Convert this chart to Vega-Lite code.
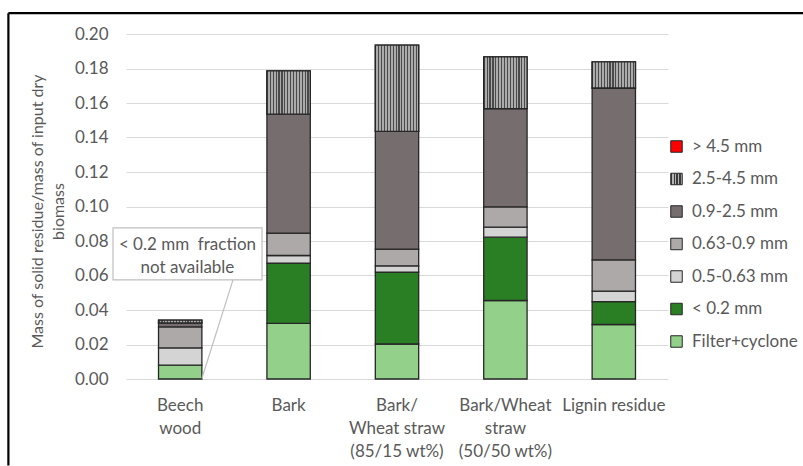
{
  "$schema": "https://vega.github.io/schema/vega-lite/v6.json",
  "usermeta": {"embedOptions": {"actions": false}},
  "autosize": {"type": "none"},
  "padding": {"left": 126, "top": 34, "right": 135, "bottom": 87},
  "width": 542,
  "height": 345,
  "background": "white",
  "config": {
    "font": "Lato",
    "view": {"stroke": null},
    "axis": {"labelColor": "#595959", "titleColor": "#595959", "labelFont": "Lato", "titleFont": "Lato", "labelFontSize": 17, "titleFontSize": 16, "titleFontWeight": "normal", "labelOverlap": false},
    "axisY": {"labelOverlap": false, "labelSeparation": -50, "labelBound": false, "domain": false, "ticks": false, "labelPadding": 18, "gridColor": "#D9D9D9", "gridWidth": 1.2, "format": ".2f", "tickCount": 11},
    "legend": {"labelColor": "#595959", "labelFont": "Lato", "labelFontSize": 17}
  },
  "data": {
    "values": [
      {"sample": "Beech\nwood", "fraction": "Filter+cyclone", "value": 0.0080},
      {"sample": "Beech\nwood", "fraction": "0.5-0.63 mm", "value": 0.0100},
      {"sample": "Beech\nwood", "fraction": "0.63-0.9 mm", "value": 0.0122},
      {"sample": "Beech\nwood", "fraction": "0.9-2.5 mm", "value": 0.0023},
      {"sample": "Beech\nwood", "fraction": "2.5-4.5 mm", "value": 0.0016},
      {"sample": "Bark", "fraction": "Filter+cyclone", "value": 0.0322},
      {"sample": "Bark", "fraction": "< 0.2 mm", "value": 0.0350},
      {"sample": "Bark", "fraction": "0.5-0.63 mm", "value": 0.0044},
      {"sample": "Bark", "fraction": "0.63-0.9 mm", "value": 0.0130},
      {"sample": "Bark", "fraction": "0.9-2.5 mm", "value": 0.0689},
      {"sample": "Bark", "fraction": "2.5-4.5 mm", "value": 0.0251},
      {"sample": "Bark/\nWheat straw\n(85/15 wt%)", "fraction": "Filter+cyclone", "value": 0.0203},
      {"sample": "Bark/\nWheat straw\n(85/15 wt%)", "fraction": "< 0.2 mm", "value": 0.0417},
      {"sample": "Bark/\nWheat straw\n(85/15 wt%)", "fraction": "0.5-0.63 mm", "value": 0.0036},
      {"sample": "Bark/\nWheat straw\n(85/15 wt%)", "fraction": "0.63-0.9 mm", "value": 0.0097},
      {"sample": "Bark/\nWheat straw\n(85/15 wt%)", "fraction": "0.9-2.5 mm", "value": 0.0683},
      {"sample": "Bark/\nWheat straw\n(85/15 wt%)", "fraction": "2.5-4.5 mm", "value": 0.0500},
      {"sample": "Bark/Wheat\nstraw\n(50/50 wt%)", "fraction": "Filter+cyclone", "value": 0.0455},
      {"sample": "Bark/Wheat\nstraw\n(50/50 wt%)", "fraction": "< 0.2 mm", "value": 0.0367},
      {"sample": "Bark/Wheat\nstraw\n(50/50 wt%)", "fraction": "0.5-0.63 mm", "value": 0.0058},
      {"sample": "Bark/Wheat\nstraw\n(50/50 wt%)", "fraction": "0.63-0.9 mm", "value": 0.0118},
      {"sample": "Bark/Wheat\nstraw\n(50/50 wt%)", "fraction": "0.9-2.5 mm", "value": 0.0569},
      {"sample": "Bark/Wheat\nstraw\n(50/50 wt%)", "fraction": "2.5-4.5 mm", "value": 0.0300},
      {"sample": "Lignin residue", "fraction": "Filter+cyclone", "value": 0.0316},
      {"sample": "Lignin residue", "fraction": "< 0.2 mm", "value": 0.0132},
      {"sample": "Lignin residue", "fraction": "0.5-0.63 mm", "value": 0.0062},
      {"sample": "Lignin residue", "fraction": "0.63-0.9 mm", "value": 0.0181},
      {"sample": "Lignin residue", "fraction": "0.9-2.5 mm", "value": 0.0996},
      {"sample": "Lignin residue", "fraction": "2.5-4.5 mm", "value": 0.0151}
    ]
  },
  "layer": [
    {
      "transform": [
        {"calculate": "indexof(['Filter+cyclone', '< 0.2 mm', '0.5-0.63 mm', '0.63-0.9 mm', '0.9-2.5 mm', '2.5-4.5 mm', '> 4.5 mm'], datum.fraction)", "as": "stackOrder"},
        {"stack": "value", "groupby": ["sample"], "sort": [{"field": "stackOrder", "order": "ascending"}], "as": ["v0", "v1"]}
      ],
      "mark": {"type": "bar", "stroke": "#262626", "strokeWidth": 1.3},
      "encoding": {
        "x": {
          "field": "sample", "type": "nominal", "sort": null,
          "scale": {"domain": ["Beech\nwood", "Bark", "Bark/\nWheat straw\n(85/15 wt%)", "Bark/Wheat\nstraw\n(50/50 wt%)", "Lignin residue"], "paddingInner": 0.6, "paddingOuter": 0.3},
          "axis": {"title": null, "labelAngle": 0, "domain": false, "ticks": false, "labelPadding": 18, "labelLineHeight": 23, "labelExpr": "split(datum.label, '\\n')"}
        },
        "y": {
          "field": "v0", "type": "quantitative",
          "scale": {"domain": [0, 0.2], "nice": false},
          "axis": {
            "title": ["Mass of solid residue/mass of input dry", "biomass"],
            "titleLineHeight": 21, "titleX": -89, "titleY": 177, "titleAngle": -90, "titleAlign": "center", "titleBaseline": "middle",
            "tickCount": 11, "format": ".2f", "labelOverlap": false, "labelSeparation": -50
          }
        },
        "y2": {"field": "v1"},
        "color": {
          "field": "fraction", "type": "nominal",
          "scale": {
            "domain": ["> 4.5 mm", "2.5-4.5 mm", "0.9-2.5 mm", "0.63-0.9 mm", "0.5-0.63 mm", "< 0.2 mm", "Filter+cyclone"],
            "range": [
              "#FF0000",
              {"expr": "{gradient: 'linear', x1: 0, y1: 0, x2: 1, y2: 0, stops: [{offset: 0, color: '#3A3A3A'}, {offset: 0.12, color: '#3A3A3A'}, {offset: 0.12, color: '#B5B5B5'}, {offset: 0.25, color: '#B5B5B5'}, {offset: 0.25, color: '#3A3A3A'}, {offset: 0.37, color: '#3A3A3A'}, {offset: 0.37, color: '#B5B5B5'}, {offset: 0.5, color: '#B5B5B5'}, {offset: 0.5, color: '#3A3A3A'}, {offset: 0.62, color: '#3A3A3A'}, {offset: 0.62, color: '#B5B5B5'}, {offset: 0.75, color: '#B5B5B5'}, {offset: 0.75, color: '#3A3A3A'}, {offset: 0.87, color: '#3A3A3A'}, {offset: 0.87, color: '#B5B5B5'}, {offset: 1, color: '#B5B5B5'}]}"},
              "#766E6E", "#AEA9A9", "#D4D4D4", "#2A7F25", "#93D18A"
            ]
          },
          "legend": {
            "title": null, "orient": "none", "legendX": 542, "legendY": 104,
            "symbolType": "square", "symbolSize": 132, "symbolStrokeColor": "#262626", "symbolStrokeWidth": 1,
            "symbolOpacity": 1, "rowPadding": 14.5, "labelOffset": 7
          }
        }
      }
    },
    {
      "transform": [
        {"calculate": "indexof(['Filter+cyclone', '< 0.2 mm', '0.5-0.63 mm', '0.63-0.9 mm', '0.9-2.5 mm', '2.5-4.5 mm', '> 4.5 mm'], datum.fraction)", "as": "stackOrder"},
        {"stack": "value", "groupby": ["sample"], "sort": [{"field": "stackOrder", "order": "ascending"}], "as": ["v0", "v1"]},
        {"filter": "datum.fraction === '2.5-4.5 mm'"}
      ],
      "mark": {
        "type": "bar", "stroke": "#262626", "strokeWidth": 1.3,
        "color": {"gradient": "linear", "x1": 0, "y1": 0, "x2": 1, "y2": 0, "stops": [
          {"offset": 0, "color": "#4A4A4A"}, {"offset": 0.0267, "color": "#4A4A4A"}, {"offset": 0.0267, "color": "#ABABAB"}, {"offset": 0.0667, "color": "#ABABAB"},
          {"offset": 0.0667, "color": "#4A4A4A"}, {"offset": 0.0933, "color": "#4A4A4A"}, {"offset": 0.0933, "color": "#ABABAB"}, {"offset": 0.1333, "color": "#ABABAB"},
          {"offset": 0.1333, "color": "#4A4A4A"}, {"offset": 0.16, "color": "#4A4A4A"}, {"offset": 0.16, "color": "#ABABAB"}, {"offset": 0.2, "color": "#ABABAB"},
          {"offset": 0.2, "color": "#4A4A4A"}, {"offset": 0.2267, "color": "#4A4A4A"}, {"offset": 0.2267, "color": "#ABABAB"}, {"offset": 0.2667, "color": "#ABABAB"},
          {"offset": 0.2667, "color": "#4A4A4A"}, {"offset": 0.2933, "color": "#4A4A4A"}, {"offset": 0.2933, "color": "#ABABAB"}, {"offset": 0.3333, "color": "#ABABAB"},
          {"offset": 0.3333, "color": "#4A4A4A"}, {"offset": 0.36, "color": "#4A4A4A"}, {"offset": 0.36, "color": "#ABABAB"}, {"offset": 0.4, "color": "#ABABAB"},
          {"offset": 0.4, "color": "#4A4A4A"}, {"offset": 0.4267, "color": "#4A4A4A"}, {"offset": 0.4267, "color": "#ABABAB"}, {"offset": 0.4667, "color": "#ABABAB"},
          {"offset": 0.4667, "color": "#4A4A4A"}, {"offset": 0.4933, "color": "#4A4A4A"}, {"offset": 0.4933, "color": "#ABABAB"}, {"offset": 0.5333, "color": "#ABABAB"},
          {"offset": 0.5333, "color": "#4A4A4A"}, {"offset": 0.56, "color": "#4A4A4A"}, {"offset": 0.56, "color": "#ABABAB"}, {"offset": 0.6, "color": "#ABABAB"},
          {"offset": 0.6, "color": "#4A4A4A"}, {"offset": 0.6267, "color": "#4A4A4A"}, {"offset": 0.6267, "color": "#ABABAB"}, {"offset": 0.6667, "color": "#ABABAB"},
          {"offset": 0.6667, "color": "#4A4A4A"}, {"offset": 0.6933, "color": "#4A4A4A"}, {"offset": 0.6933, "color": "#ABABAB"}, {"offset": 0.7333, "color": "#ABABAB"},
          {"offset": 0.7333, "color": "#4A4A4A"}, {"offset": 0.76, "color": "#4A4A4A"}, {"offset": 0.76, "color": "#ABABAB"}, {"offset": 0.8, "color": "#ABABAB"},
          {"offset": 0.8, "color": "#4A4A4A"}, {"offset": 0.8267, "color": "#4A4A4A"}, {"offset": 0.8267, "color": "#ABABAB"}, {"offset": 0.8667, "color": "#ABABAB"},
          {"offset": 0.8667, "color": "#4A4A4A"}, {"offset": 0.8933, "color": "#4A4A4A"}, {"offset": 0.8933, "color": "#ABABAB"}, {"offset": 0.9333, "color": "#ABABAB"},
          {"offset": 0.9333, "color": "#4A4A4A"}, {"offset": 0.96, "color": "#4A4A4A"}, {"offset": 0.96, "color": "#ABABAB"}, {"offset": 1, "color": "#ABABAB"}
        ]}
      },
      "encoding": {
        "x": {
          "field": "sample", "type": "nominal", "sort": null,
          "scale": {"domain": ["Beech\nwood", "Bark", "Bark/\nWheat straw\n(85/15 wt%)", "Bark/Wheat\nstraw\n(50/50 wt%)", "Lignin residue"], "paddingInner": 0.6, "paddingOuter": 0.3},
          "axis": null
        },
        "y": {"field": "v0", "type": "quantitative"},
        "y2": {"field": "v1"}
      }
    },
    {
      "data": {"values": [{"x0": -0.12, "x1": 1.255, "y0": 0.0575, "y1": 0.0876}]},
      "mark": {"type": "rect", "fill": "white", "stroke": "#BFBFBF", "strokeWidth": 1.2},
      "encoding": {
        "x": {"field": "x0", "type": "quantitative", "scale": {"domain": [0, 5], "nice": false, "zero": false}, "axis": null},
        "x2": {"field": "x1"},
        "y": {"field": "y0", "type": "quantitative"},
        "y2": {"field": "y1"}
      }
    },
    {
      "data": {"values": [{"x0": 0.987, "y0": 0.0575, "x1": 0.70, "y1": 0.0003}]},
      "mark": {"type": "rule", "stroke": "#BFBFBF", "strokeWidth": 1.2},
      "encoding": {
        "x": {"field": "x0", "type": "quantitative", "scale": {"domain": [0, 5], "nice": false, "zero": false}, "axis": null},
        "x2": {"field": "x1"},
        "y": {"field": "y0", "type": "quantitative"},
        "y2": {"field": "y1"}
      }
    },
    {
      "data": {"values": [{"x": 0.567, "y": 0.0778, "note": ["< 0.2 mm\u00a0 fraction", "not available"]}]},
      "mark": {"type": "text", "fontSize": 17, "font": "Lato", "color": "#595959", "align": "center", "baseline": "middle", "lineHeight": 23},
      "encoding": {
        "x": {"field": "x", "type": "quantitative", "scale": {"domain": [0, 5], "nice": false, "zero": false}, "axis": null},
        "y": {"field": "y", "type": "quantitative"},
        "text": {"field": "note"}
      }
    },
    {
      "data": {"values": [
        {"x0": -1.085, "x1": 6.25, "y0": 0.2121, "y1": 0.2121},
        {"x0": -1.085, "x1": -1.085, "y0": 0.2121, "y1": -0.0502}
      ]},
      "mark": {"type": "rule", "stroke": "#000000", "strokeWidth": 2.2},
      "encoding": {
        "x": {"field": "x0", "type": "quantitative", "scale": {"domain": [0, 5], "nice": false, "zero": false}, "axis": null},
        "x2": {"field": "x1"},
        "y": {"field": "y0", "type": "quantitative"},
        "y2": {"field": "y1"}
      }
    }
  ],
  "resolve": {"scale": {"x": "independent"}, "axis": {"x": "independent"}}
}
